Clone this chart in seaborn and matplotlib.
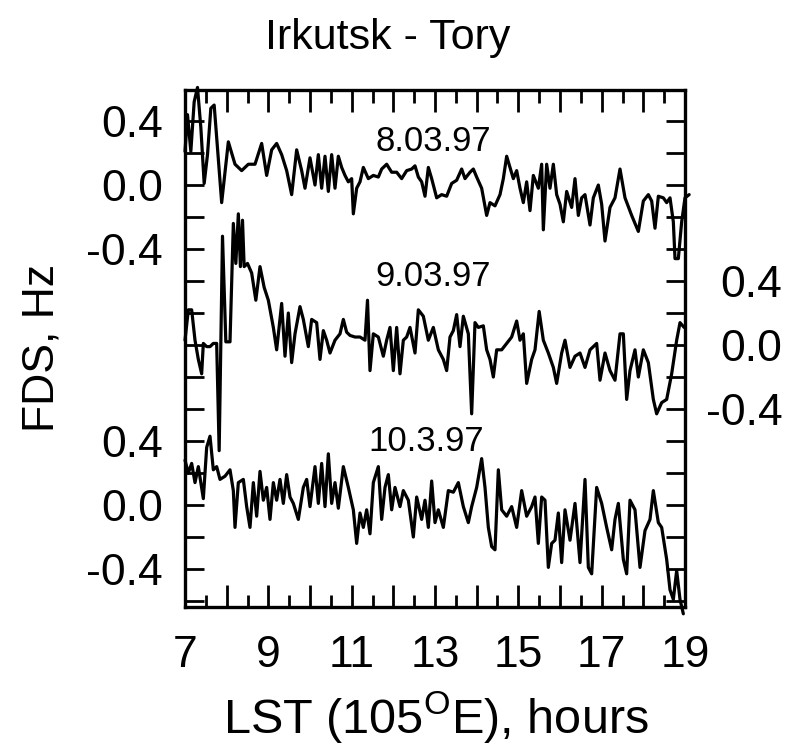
import numpy as np
import pandas as pd
import matplotlib
matplotlib.use("Agg")
import matplotlib.pyplot as plt
import seaborn as sns

# ---------------- data (hours LST, FDS in Hz) ----------------
t_0803 = [7.00, 7.06, 7.14, 7.22, 7.30, 7.38, 7.46, 7.54, 7.62, 7.70, 7.78, 7.88,
          8.04, 8.20, 8.36, 8.52, 8.68, 8.84, 8.96, 9.08, 9.20, 9.32, 9.44, 9.56,
          9.68, 9.80, 9.88, 10.00, 10.12, 10.20, 10.28, 10.36, 10.44, 10.52, 10.60,
          10.68, 10.76, 10.84, 10.92, 11.00, 11.04, 11.12, 11.20, 11.28, 11.40, 11.52,
          11.64, 11.72, 11.84, 11.96, 12.08, 12.20, 12.32, 12.44, 12.52, 12.60, 12.68,
          12.76, 12.84, 12.92, 13.04, 13.16, 13.28, 13.40, 13.52, 13.64, 13.72, 13.84,
          13.92, 14.00, 14.12, 14.24, 14.32, 14.44, 14.56, 14.64, 14.72, 14.80, 14.88,
          14.96, 15.04, 15.12, 15.20, 15.28, 15.36, 15.48, 15.56, 15.60, 15.68, 15.76,
          15.84, 15.92, 16.00, 16.08, 16.16, 16.28, 16.36, 16.44, 16.52, 16.60, 16.72,
          16.80, 16.92, 17.00, 17.08, 17.20, 17.32, 17.44, 17.56, 17.72, 17.88, 18.00,
          18.12, 18.20, 18.28, 18.36, 18.48, 18.56, 18.64, 18.72, 18.76, 18.84, 18.92,
          19.00, 19.10]
v_0803 = [0.21, 0.44, 0.21, 0.52, 0.61, 0.36, 0.01, 0.19, 0.48, 0.50, 0.23, -0.11,
          0.27, 0.13, 0.09, 0.13, 0.13, 0.26, 0.06, 0.22, 0.26, 0.19, 0.09, -0.06,
          0.22, 0.09, -0.02, 0.17, 0.00, 0.19, -0.02, 0.18, -0.04, 0.19, -0.02,
          0.18, 0.11, 0.06, 0.02, 0.04, -0.18, -0.02, 0.02, 0.11, 0.04, 0.06,
          0.05, 0.10, 0.13, 0.08, 0.08, 0.04, 0.09, 0.10, 0.12, 0.05, 0.02,
          -0.07, 0.11, 0.04, -0.08, -0.06, -0.07, 0.01, 0.03, 0.10, 0.04, 0.08,
          0.10, 0.05, -0.02, -0.19, -0.11, -0.13, -0.06, 0.04, 0.18, 0.11, 0.04,
          0.09, -0.02, -0.11, 0.02, -0.16, 0.06, -0.02, 0.13, -0.28, 0.13, -0.02,
          0.13, -0.06, -0.12, -0.23, -0.04, -0.14, 0.04, -0.19, -0.08, -0.06, -0.25,
          -0.08, 0.00, -0.12, -0.35, -0.14, -0.08, 0.10, -0.08, -0.19, -0.29, -0.10,
          -0.06, -0.10, -0.27, -0.07, -0.08, -0.11, -0.08, -0.23, -0.46, -0.46, -0.23,
          -0.08, -0.06]

t_0903 = [7.00, 7.08, 7.16, 7.24, 7.32, 7.40, 7.44, 7.52, 7.60, 7.68, 7.76, 7.82,
          7.90, 7.98, 8.08, 8.16, 8.22, 8.28, 8.33, 8.38, 8.42, 8.50, 8.60, 8.70,
          8.80, 8.90, 9.00, 9.12, 9.20, 9.32, 9.40, 9.48, 9.56, 9.64, 9.76, 9.84,
          9.96, 10.04, 10.16, 10.24, 10.32, 10.40, 10.48, 10.60, 10.72, 10.80, 10.88,
          10.96, 11.08, 11.20, 11.32, 11.38, 11.44, 11.52, 11.64, 11.76, 11.84, 11.92,
          12.00, 12.08, 12.16, 12.24, 12.32, 12.40, 12.52, 12.60, 12.72, 12.84, 12.96,
          13.08, 13.20, 13.28, 13.36, 13.44, 13.52, 13.60, 13.68, 13.80, 13.88, 13.96,
          14.04, 14.16, 14.24, 14.32, 14.40, 14.48, 14.60, 14.72, 14.84, 14.96, 15.04,
          15.12, 15.20, 15.32, 15.40, 15.50, 15.60, 15.72, 15.84, 15.92, 16.04, 16.12,
          16.24, 16.36, 16.48, 16.60, 16.72, 16.88, 16.96, 17.08, 17.20, 17.32, 17.44,
          17.52, 17.60, 17.68, 17.80, 17.88, 18.00, 18.12, 18.24, 18.32, 18.44, 18.56,
          18.68, 18.80, 18.88, 18.98]
v_0903 = [0.03, 0.22, 0.22, 0.03, -0.09, -0.18, 0.01, -0.01, -0.01, 0.01, 0.01, -0.66,
          0.68, 0.02, 0.02, 0.76, 0.51, 0.82, 0.49, 0.78, 0.49, 0.51, 0.45, 0.28,
          0.49, 0.36, 0.28, 0.11, -0.03, 0.26, -0.07, 0.20, -0.11, 0.07, 0.24, 0.16,
          -0.01, 0.16, 0.14, -0.09, 0.09, 0.03, -0.05, 0.03, 0.07, 0.16, 0.08,
          0.06, 0.05, 0.05, 0.03, 0.28, -0.16, 0.07, 0.05, -0.07, 0.03, 0.11,
          -0.16, 0.11, -0.18, 0.03, 0.05, 0.11, -0.05, 0.22, 0.18, 0.03, 0.11,
          -0.03, -0.09, -0.16, 0.05, 0.09, 0.19, -0.01, 0.18, 0.07, -0.43, 0.14,
          0.11, 0.12, -0.03, -0.09, -0.20, -0.03, -0.03, 0.01, 0.05, 0.15, 0.03,
          0.07, -0.24, -0.09, -0.03, 0.21, 0.03, -0.05, -0.14, -0.24, -0.05, 0.03,
          -0.14, -0.07, -0.05, -0.14, -0.03, 0.01, -0.22, -0.05, -0.16, -0.22, 0.07,
          0.07, -0.34, -0.16, -0.03, -0.20, -0.03, -0.11, -0.34, -0.43, -0.36, -0.34,
          -0.18, 0.03, 0.14, 0.11]

t_1003 = [7.00, 7.08, 7.16, 7.24, 7.32, 7.44, 7.52, 7.60, 7.68, 7.76, 7.84, 7.96,
          8.08, 8.16, 8.20, 8.28, 8.40, 8.48, 8.56, 8.64, 8.72, 8.80, 8.88, 8.96,
          9.04, 9.12, 9.20, 9.28, 9.36, 9.44, 9.52, 9.60, 9.72, 9.84, 9.92, 10.00,
          10.12, 10.20, 10.28, 10.36, 10.44, 10.52, 10.60, 10.68, 10.80, 10.92, 11.04,
          11.12, 11.20, 11.28, 11.36, 11.44, 11.52, 11.64, 11.72, 11.80, 11.88, 11.96,
          12.04, 12.16, 12.24, 12.36, 12.48, 12.56, 12.68, 12.76, 12.84, 12.92, 13.00,
          13.08, 13.20, 13.32, 13.44, 13.56, 13.68, 13.80, 13.88, 14.00, 14.12, 14.20,
          14.28, 14.36, 14.44, 14.52, 14.60, 14.72, 14.84, 14.96, 15.08, 15.20, 15.32,
          15.40, 15.48, 15.56, 15.64, 15.72, 15.80, 15.88, 15.96, 16.04, 16.12, 16.24,
          16.36, 16.48, 16.60, 16.68, 16.76, 16.88, 17.00, 17.12, 17.24, 17.32, 17.40,
          17.52, 17.60, 17.68, 17.80, 17.92, 18.04, 18.16, 18.24, 18.36, 18.44, 18.56,
          18.64, 18.72, 18.80, 18.88, 18.96]
v_1003 = [0.28, 0.20, 0.26, 0.14, 0.24, 0.04, 0.36, 0.43, 0.22, 0.24, 0.16, 0.18,
          0.22, 0.09, -0.14, 0.14, 0.16, -0.01, -0.14, 0.14, -0.07, 0.21, 0.03, 0.11,
          -0.09, 0.14, 0.03, 0.16, 0.01, 0.19, 0.05, 0.01, -0.09, 0.11, 0.16, -0.01,
          0.24, 0.01, 0.26, -0.01, 0.32, 0.01, 0.14, -0.02, 0.24, 0.11, -0.03,
          -0.24, -0.05, -0.14, -0.03, -0.18, 0.14, 0.24, -0.09, 0.11, 0.19, -0.03,
          0.11, -0.01, 0.09, 0.03, -0.20, 0.05, -0.09, 0.03, -0.14, 0.15, -0.11,
          -0.03, -0.14, 0.09, 0.08, 0.14, -0.01, -0.11, -0.01, 0.11, 0.29, 0.11,
          -0.14, -0.26, -0.28, 0.22, -0.03, -0.07, -0.01, -0.14, 0.09, -0.07, -0.01,
          0.05, -0.24, 0.05, 0.03, -0.39, -0.24, -0.22, -0.05, -0.36, -0.03, -0.22,
          0.01, -0.36, 0.16, -0.39, -0.43, 0.11, 0.01, -0.14, -0.28, -0.09, 0.01,
          -0.34, -0.43, 0.03, -0.03, -0.39, -0.16, -0.09, 0.09, -0.11, -0.14, -0.34,
          -0.53, -0.59, -0.41, -0.59, -0.68]

dates = ["8.03.97", "9.03.97", "10.3.97"]
offsets = [2.0, 1.0, 0.0]          # vertical stacking of the three records
hour_ticks = list(range(7, 20))
hour_labels = [str(h) if h % 2 == 1 else "" for h in hour_ticks]
fds_labels = ["0.4", "0.0", "-0.4"]
fds_levels = [0.4, 0.0, -0.4]

# ---------------- build long table ----------------
frames = []
for name, t, v, off in zip(dates, [t_0803, t_0903, t_1003],
                           [v_0803, v_0903, v_1003], offsets):
    frames.append(pd.DataFrame({"t": t, "y": np.array(v) + off, "day": name}))
df = pd.concat(frames, ignore_index=True)

# ---------------- figure ----------------
sns.set_style("white")
plt.rcParams["font.family"] = ["Liberation Sans", "DejaVu Sans"]
plt.rcParams["text.color"] = "black"
plt.rcParams["xtick.color"] = "black"
plt.rcParams["ytick.color"] = "black"
plt.rcParams["axes.labelcolor"] = "black"

W, H = 798, 754
fig = plt.figure(figsize=(W / 100, H / 100), dpi=100)
ax = fig.add_axes([185 / W, 1 - 607 / H, 500 / W, 517 / H])

sns.lineplot(data=df, x="t", y="y", units="day", estimator=None, sort=False,
             color="black", ax=ax, legend=False)
for line in ax.lines:
    line.set_clip_on(False)
    line.set_linewidth(2.3)
    line.set_color("black")
    line.set_solid_joinstyle("round")

ax.set_xlim(7, 19)
ax.set_ylim(-0.6375, 2.594)
ax.set_xlabel("")
ax.set_ylabel("")

for s in ax.spines.values():
    s.set_visible(True)
    s.set_linewidth(2.4)
    s.set_color("black")

# x ticks
ax.set_xticks(hour_ticks)
ax.set_xticklabels(hour_labels, fontsize=32)
ax.set_xticks(np.arange(7.5, 19, 1.0), minor=True)
ax.tick_params(axis="x", which="major", direction="in", length=16, width=2.0,
               top=True, bottom=True, pad=20, colors="black")
ax.tick_params(axis="x", which="minor", direction="in", length=9, width=2.0,
               top=True, bottom=True, colors="black")

# left y ticks
yt = np.round(np.arange(-0.6, 2.59, 0.2), 2)
left_map = {}
for off in (offsets[0], offsets[2]):
    for lev, lab in zip(fds_levels, fds_labels):
        left_map[round(off + lev, 2)] = lab
ax.set_yticks(yt)
ax.set_yticklabels([left_map.get(round(v, 2), "") for v in yt], fontsize=32)
ax.tick_params(axis="y", which="major", direction="in", length=14, width=2.0,
               left=True, right=False, pad=16, colors="black")

# right y ticks for the middle record
ax2 = ax.twinx()
ax2.set_ylim(ax.get_ylim())
right_map = {round(offsets[1] + lev, 2): lab for lev, lab in zip(fds_levels, fds_labels)}
ax2.set_yticks(yt)
ax2.set_yticklabels([right_map.get(round(v, 2), "") for v in yt], fontsize=32,
                    ha="right")
ax2.tick_params(axis="y", direction="in", length=14, width=2.0, right=True,
                left=False, pad=70, colors="black")
for s in ax2.spines.values():
    s.set_visible(False)

# date annotations
date_pos = [(12.95, 2.275), (12.95, 1.43), (12.8, 0.40)]
for name, (xx, yy) in zip(dates, date_pos):
    ax.text(xx, yy, name, fontsize=25, ha="center", va="center")

fig.text(388 / W, 1 - 38 / H, "Irkutsk - Tory", fontsize=31, ha="center", va="center")
fig.text(436 / W, 1 - 718 / H, r"LST (105$^{\mathregular{O}}$E), hours", fontsize=35,
         ha="center", va="center")
fig.text(42 / W, 1 - 348 / H, "FDS, Hz", fontsize=32, rotation=90,
         ha="center", va="center")

fig.savefig("out.png", dpi=100, facecolor="white")
